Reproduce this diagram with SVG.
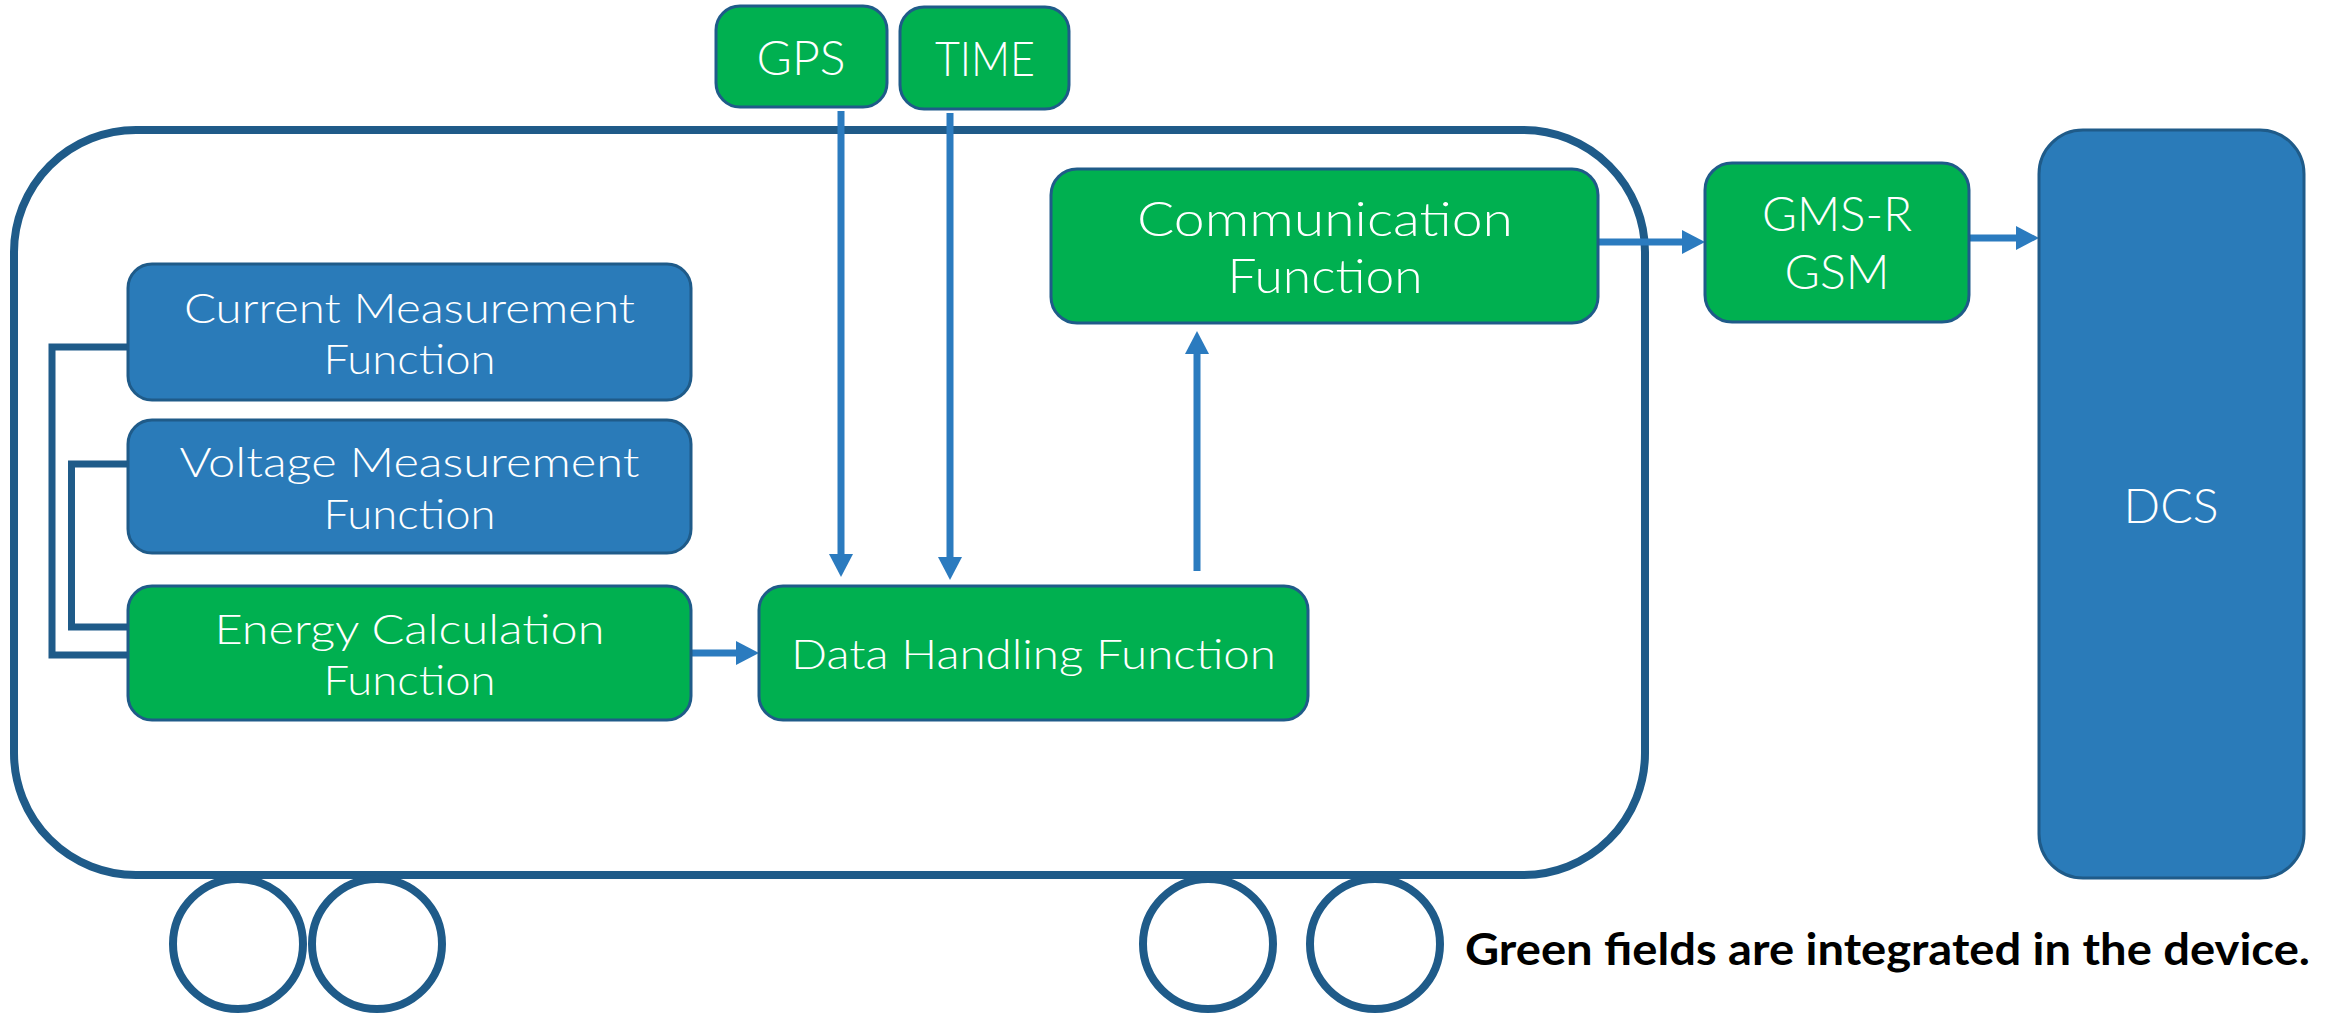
<svg xmlns="http://www.w3.org/2000/svg" width="2336" height="1014" viewBox="0 0 2336 1014">
<defs>
<style>
.car{fill:none;stroke:#1F5B89;stroke-width:8}
.wheel{fill:#FFFFFF;stroke:#1F5B89;stroke-width:8}
.g{fill:#00B050;stroke:#1F5B89;stroke-width:3}
.b{fill:#2A7BB9;stroke:#1F5B89;stroke-width:3}
.t{font-family:Lato,"Open Sans","Liberation Sans",sans-serif;font-weight:300;fill:#FFFFFF;text-anchor:middle}
.f42{font-size:42px}
.f48{font-size:47px}
.arr{fill:none;stroke:#2B7BBF;stroke-width:7}
.brk{fill:none;stroke:#1F5B89;stroke-width:7}
.legend{font-family:Lato,"Open Sans","Liberation Sans",sans-serif;font-weight:bold;font-size:43px;fill:#000000}
</style>
<marker id="ah" markerUnits="userSpaceOnUse" markerWidth="24" markerHeight="24" refX="0" refY="12" orient="auto">
<path d="M0,0 L23,12 L0,24 Z" fill="#2B7BBF"/>
</marker>
</defs>
<rect width="2336" height="1014" fill="#FFFFFF"/>
<g id="car">
<rect class="car" x="14" y="130" width="1631" height="745" rx="122" ry="122"/>
<circle class="wheel" cx="238" cy="944" r="65"/>
<circle class="wheel" cx="377" cy="944" r="65"/>
<circle class="wheel" cx="1208" cy="944" r="65"/>
<circle class="wheel" cx="1375" cy="944" r="65"/>
</g>
<g id="connectors">
<path class="brk" d="M128,347 H52 V655 H128"/>
<path class="brk" d="M128,464 H71.5 V627 H128"/>
<line class="arr" x1="841" y1="111" x2="841" y2="554" marker-end="url(#ah)"/>
<line class="arr" x1="950" y1="113" x2="950" y2="557" marker-end="url(#ah)"/>
<line class="arr" x1="1197" y1="571" x2="1197" y2="354" marker-end="url(#ah)"/>
<line class="arr" x1="691" y1="653" x2="736" y2="653" marker-end="url(#ah)"/>
<line class="arr" x1="1599" y1="242" x2="1682" y2="242" marker-end="url(#ah)"/>
<line class="arr" x1="1970" y1="238" x2="2016" y2="238" marker-end="url(#ah)"/>
</g>
<g id="current">
<rect class="b" x="128" y="264" width="563" height="136" rx="24"/>
<text class="t f42" x="409.5" y="323" textLength="451" lengthAdjust="spacingAndGlyphs">Current Measurement</text>
<text class="t f42" x="409.5" y="374" textLength="172" lengthAdjust="spacingAndGlyphs">Function</text>
</g>
<g id="voltage">
<rect class="b" x="128" y="420" width="563" height="133" rx="24"/>
<text class="t f42" x="409.5" y="477" textLength="460" lengthAdjust="spacingAndGlyphs">Voltage Measurement</text>
<text class="t f42" x="409.5" y="529" textLength="172" lengthAdjust="spacingAndGlyphs">Function</text>
</g>
<g id="energy">
<rect class="g" x="128" y="586" width="563" height="134" rx="24"/>
<text class="t f42" x="409.5" y="644" textLength="390" lengthAdjust="spacingAndGlyphs">Energy Calculation</text>
<text class="t f42" x="409.5" y="695" textLength="172" lengthAdjust="spacingAndGlyphs">Function</text>
</g>
<g id="datahandling">
<rect class="g" x="759" y="586" width="549" height="134" rx="24"/>
<text class="t f42" x="1033.5" y="669" textLength="485" lengthAdjust="spacingAndGlyphs">Data Handling Function</text>
</g>
<g id="communication">
<rect class="g" x="1051" y="169" width="547" height="154" rx="26"/>
<text class="t f48" x="1325" y="236" textLength="376" lengthAdjust="spacingAndGlyphs">Communication</text>
<text class="t f48" x="1325" y="293" textLength="195" lengthAdjust="spacingAndGlyphs">Function</text>
</g>
<g id="gps">
<rect class="g" x="716" y="6" width="171" height="101" rx="24"/>
<text class="t f48" x="801" y="75" textLength="89" lengthAdjust="spacingAndGlyphs">GPS</text>
</g>
<g id="time">
<rect class="g" x="900" y="7" width="169" height="102" rx="24"/>
<text class="t f48" x="985" y="76" textLength="100" lengthAdjust="spacingAndGlyphs">TIME</text>
</g>
<g id="gsm">
<rect class="g" x="1705" y="163" width="264" height="159" rx="27"/>
<text class="t f48" x="1837" y="231" textLength="150" lengthAdjust="spacingAndGlyphs">GMS-R</text>
<text class="t f48" x="1837" y="289" textLength="105" lengthAdjust="spacingAndGlyphs">GSM</text>
</g>
<g id="dcs">
<rect class="b" x="2039" y="130" width="265" height="748" rx="44"/>
<text class="t f48" x="2171" y="523" textLength="95" lengthAdjust="spacingAndGlyphs">DCS</text>
</g>
<g id="legend">
<text class="legend" x="1465" y="965" textLength="845" lengthAdjust="spacingAndGlyphs">Green fields are integrated in the device.</text>
</g>
</svg>
